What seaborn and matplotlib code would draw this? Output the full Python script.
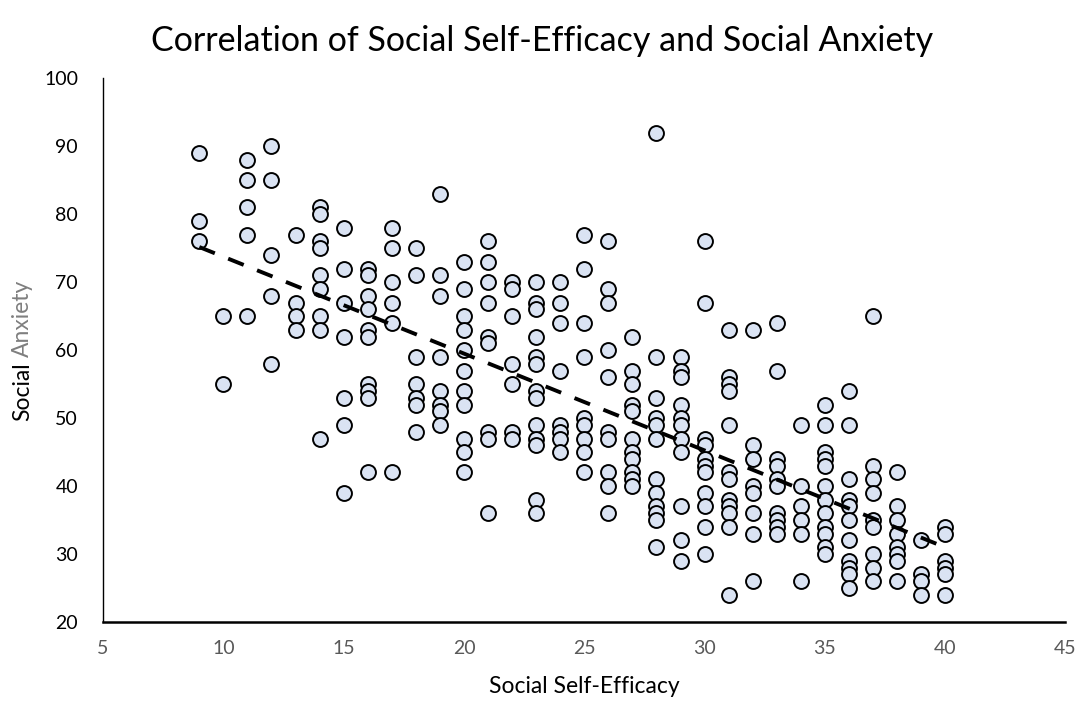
import numpy as np
import pandas as pd
import matplotlib
matplotlib.use("Agg")
import matplotlib.pyplot as plt
import seaborn as sns

# social self-efficacy score and the social anxiety scores seen at that score
efficacy_levels = [9, 10, 11, 12, 13, 14, 15, 16, 17, 18, 19, 20, 21, 22, 23, 24,
                   25, 26, 27, 28, 29, 30, 31, 32, 33, 34, 35, 36, 37, 38, 39, 40]
anxiety_by_level = [
    [89, 79, 76],
    [65, 55],
    [88, 85, 81, 77, 65],
    [90, 85, 74, 68, 58],
    [77, 67, 65, 63],
    [81, 80, 76, 75, 71, 69, 65, 63, 47],
    [78, 72, 67, 62, 53, 49, 39],
    [72, 71, 68, 66, 63, 62, 55, 54, 53, 42],
    [78, 75, 70, 67, 64, 42],
    [75, 71, 59, 55, 53, 52, 48],
    [83, 71, 68, 59, 54, 52, 51, 49],
    [73, 69, 65, 63, 60, 57, 54, 52, 47, 45, 42],
    [76, 73, 70, 67, 62, 61, 48, 47, 36],
    [70, 69, 65, 58, 55, 48, 47],
    [70, 67, 66, 62, 59, 58, 54, 53, 49, 47, 46, 38, 36],
    [70, 67, 64, 57, 49, 48, 47, 45],
    [77, 72, 64, 59, 50, 49, 47, 45, 42],
    [76, 69, 67, 60, 56, 48, 47, 42, 40, 36],
    [62, 57, 55, 52, 51, 47, 45, 44, 42, 41, 40],
    [92, 59, 53, 50, 49, 47, 41, 39, 37, 36, 35, 31],
    [59, 57, 56, 52, 50, 49, 47, 45, 37, 32, 29],
    [76, 67, 47, 46, 44, 43, 42, 39, 37, 34, 30],
    [63, 56, 55, 54, 49, 42, 41, 38, 37, 36, 34, 24],
    [63, 46, 44, 40, 39, 36, 33, 26],
    [64, 57, 44, 43, 41, 40, 36, 35, 34, 33],
    [49, 40, 37, 35, 33, 26],
    [52, 49, 45, 44, 43, 40, 38, 36, 34, 33, 31, 30],
    [54, 49, 41, 38, 37, 35, 32, 29, 28, 27, 25],
    [65, 43, 41, 39, 35, 34, 30, 28, 26],
    [42, 37, 35, 33, 31, 30, 29, 26],
    [32, 27, 26, 24],
    [34, 33, 29, 28, 27, 24],
]
x_ticks = [5, 10, 15, 20, 25, 30, 35, 40, 45]
y_ticks = [20, 30, 40, 50, 60, 70, 80, 90, 100]

rows = []
for lvl, scores in zip(efficacy_levels, anxiety_by_level):
    for s in scores:
        rows.append((lvl, s))
df = pd.DataFrame(rows, columns=["efficacy", "anxiety"])

sns.set_style("white")
plt.rcParams["font.family"] = ["Lato", "DejaVu Sans"]

fig = plt.figure(figsize=(10.85, 7.06), dpi=100)
ax = fig.add_axes([0.095, 0.119, 0.887, 0.770])

sns.scatterplot(data=df, x="efficacy", y="anxiety", ax=ax, s=115,
                color="#DAE3F3", edgecolor="black", linewidth=1.4, zorder=3)
sns.regplot(data=df, x="efficacy", y="anxiety", ax=ax, scatter=False, ci=None,
            line_kws=dict(color="black", lw=2.8, dashes=(4.3, 3.7), zorder=4))

ax.set_xlim(5, 45)
ax.set_ylim(20, 100)
ax.set_xticks(x_ticks)
ax.set_yticks(y_ticks)
ax.tick_params(axis="x", length=0, labelsize=14, colors="#595959", pad=13)
ax.tick_params(axis="y", length=0, labelsize=14, colors="black", pad=18)

for side in ["top", "right"]:
    ax.spines[side].set_visible(False)
ax.spines["left"].set_color("black")
ax.spines["left"].set_linewidth(1.0)
ax.spines["bottom"].set_color("black")
ax.spines["bottom"].set_linewidth(1.8)

ax.set_xlabel("Social Self-Efficacy", fontsize=16.5, color="black", labelpad=14)
ax.set_ylabel("")
fig.suptitle("Correlation of Social Self-Efficacy and Social Anxiety",
             fontsize=24.5, color="black", y=0.965)

# y label: "Social" in black, "Anxiety" in grey, centred on the axis
fig.canvas.draw()
rend = fig.canvas.get_renderer()
lab_x = 0.021
full = fig.text(lab_x, 0.5, "Social Anxiety", rotation=90, rotation_mode="anchor",
                ha="left", va="center", fontsize=16.5, alpha=0)
anx = fig.text(lab_x, 0.5, "Anxiety", rotation=90, rotation_mode="anchor",
               ha="left", va="center", fontsize=16.5, color="#7F7F7F")
full_h = full.get_window_extent(rend).height / fig.bbox.height
anx_h = anx.get_window_extent(rend).height / fig.bbox.height
full.remove()
mid = ax.get_position().y0 + ax.get_position().height / 2
y0 = mid - full_h / 2
anx.set_y(y0 + full_h - anx_h)
fig.text(lab_x, y0, "Social", rotation=90, rotation_mode="anchor",
         ha="left", va="center", fontsize=16.5, color="black")

fig.savefig("out.png", dpi=100)
